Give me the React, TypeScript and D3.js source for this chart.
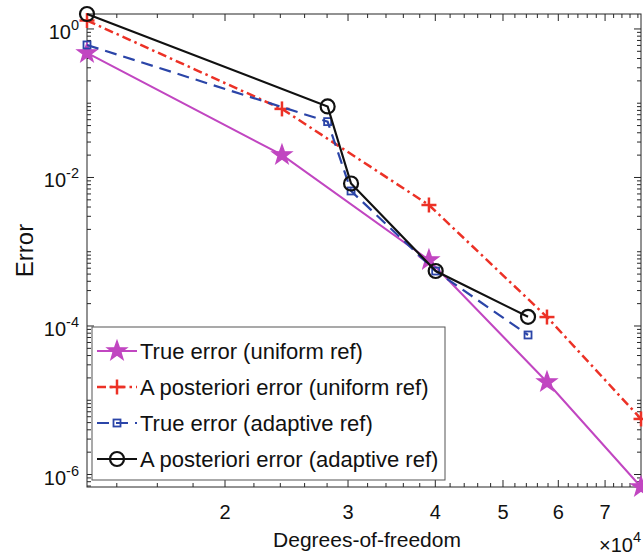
import React from "react";
import * as d3 from "d3";

const dofUniform = [12690, 24130, 39170, 57800, 78800];
const dofAdaptive = [12690, 28050, 30300, 40050, 54300];
const trueUniform = [0.475, 0.0201, 7.74e-4, 1.76e-5, 6.79e-7];
const aposUniform = [1.3, 0.0838, 4.26e-3, 1.32e-4, 5.6e-6];
const trueAdaptive = [0.609, 0.0565, 6.58e-3, 5.5e-4, 7.57e-5];
const aposAdaptive = [1.59, 0.0904, 8.3e-3, 5.5e-4, 1.33e-4];

const legendLabels = [
  "True error (uniform ref)",
  "A posteriori error (uniform ref)",
  "True error (adaptive ref)",
  "A posteriori error (adaptive ref)",
];
const xTickLabels = [2, 3, 4, 5, 6, 7];
const yTickExps = [0, -2, -4, -6];

const W = 643, H = 558;
const L = 87, R = 641, T = 14, B = 487;
const FONT = "'Liberation Sans', Arial, Helvetica, sans-serif";

type Marker = "star" | "plus" | "square" | "circle";
const seriesDefs: { x: number[]; y: number[]; color: string; dash: string; marker: Marker; w: number }[] = [
  { x: dofUniform, y: trueUniform, color: "#c146c1", dash: "", marker: "star", w: 2 },
  { x: dofUniform, y: aposUniform, color: "#ec3126", dash: "9,4,2.5,4", marker: "plus", w: 2.5 },
  { x: dofAdaptive, y: trueAdaptive, color: "#2b45a8", dash: "12,7", marker: "square", w: 2.2 },
  { x: dofAdaptive, y: aposAdaptive, color: "#111111", dash: "", marker: "circle", w: 2.2 },
];

function starPath(cx: number, cy: number, ro: number, ri: number) {
  const pts: string[] = [];
  for (let i = 0; i < 10; i++) {
    const r = i % 2 === 0 ? ro : ri;
    const a = -Math.PI / 2 + (i * Math.PI) / 5;
    pts.push(`${cx + r * Math.cos(a)},${cy + r * Math.sin(a)}`);
  }
  return "M" + pts.join("L") + "Z";
}

function MarkerG({ m, cx, cy, color }: { m: Marker; cx: number; cy: number; color: string }) {
  if (m === "star") return <path d={starPath(cx, cy, 10, 4)} fill={color} stroke={color} strokeWidth={1.5} strokeLinejoin="miter" />;
  if (m === "plus")
    return (
      <g stroke={color} strokeWidth={2.5}>
        <line x1={cx - 7.5} x2={cx + 7.5} y1={cy} y2={cy} />
        <line x1={cx} x2={cx} y1={cy - 7.5} y2={cy + 7.5} />
      </g>
    );
  if (m === "square") return <rect x={cx - 3.5} y={cy - 3.5} width={7} height={7} fill="none" stroke={color} strokeWidth={1.8} />;
  return <circle cx={cx} cy={cy} r={7} fill="none" stroke={color} strokeWidth={2.2} />;
}

export default function App() {
  const allX = [...dofUniform, ...dofAdaptive];
  const allY = [...trueUniform, ...aposUniform, ...trueAdaptive, ...aposAdaptive];
  const x = d3.scaleLog().domain(d3.extent(allX) as [number, number]).range([L, R]);
  const y = d3.scaleLog().domain([d3.max(allY)!, d3.min(allY)!]).range([T, B]);
  const line = d3.line<[number, number]>().x((d) => x(d[0])).y((d) => y(d[1]));

  const [x0, x1] = x.domain();
  const xMinor: number[] = [];
  for (let v = 10000; v <= x1 + 1; v += 2000) if (v >= x0 && !xTickLabels.includes(v / 10000)) xMinor.push(v);
  const xMajor = xTickLabels.map((v) => v * 10000);

  const [yTop, yBot] = y.domain();
  const yMinor: number[] = [];
  for (let e = -7; e <= 1; e++) {
    for (let k = 1; k <= 9; k++) {
      const v = k * Math.pow(10, e);
      if (v >= yBot && v <= yTop && !(k === 1 && yTickExps.includes(e))) yMinor.push(v);
    }
  }
  const yMajor = yTickExps.map((e) => Math.pow(10, e));

  const axisColor = "#262626";
  const majLen = 7, minLen = 4;

  return (
    <svg width={W} height={H} style={{ position: "absolute", left: 0, top: 0, background: "#fff" }} fontFamily={FONT}>
      <rect x={0} y={0} width={W} height={H} fill="#fff" />
      <g stroke={axisColor} strokeWidth={1} fill="none">
        <rect x={L} y={T} width={R - L} height={B - T} />
        {xMajor.map((v) => (
          <g key={"xm" + v}>
            <line x1={x(v)} x2={x(v)} y1={B} y2={B - majLen} />
            <line x1={x(v)} x2={x(v)} y1={T} y2={T + majLen} />
          </g>
        ))}
        {xMinor.map((v) => (
          <g key={"xn" + v}>
            <line x1={x(v)} x2={x(v)} y1={B} y2={B - minLen} />
            <line x1={x(v)} x2={x(v)} y1={T} y2={T + minLen} />
          </g>
        ))}
        {yMajor.map((v) => (
          <g key={"ym" + v}>
            <line x1={L} x2={L + majLen} y1={y(v)} y2={y(v)} />
            <line x1={R} x2={R - majLen} y1={y(v)} y2={y(v)} />
          </g>
        ))}
        {yMinor.map((v) => (
          <g key={"yn" + v}>
            <line x1={L} x2={L + minLen} y1={y(v)} y2={y(v)} />
            <line x1={R} x2={R - minLen} y1={y(v)} y2={y(v)} />
          </g>
        ))}
      </g>

      <g fill="#111" fontSize={20}>
        {xMajor.map((v, i) => (
          <text key={"xl" + v} x={x(v)} y={519} textAnchor="middle">
            {xTickLabels[i]}
          </text>
        ))}
        {yTickExps.map((e) => (
          <text key={"yl" + e} x={79} y={y(Math.pow(10, e)) + 10} textAnchor="end">
            10
            <tspan fontSize={14.5} dy={-9}>
              {e}
            </tspan>
          </text>
        ))}
        <text x={599} y={552}>
          ×10
          <tspan fontSize={14.5} dy={-10}>4</tspan>
        </text>
      </g>

      <text x={(L + R) / 2 + 3} y={547} textAnchor="middle" fontSize={21} fill="#111">
        Degrees-of-freedom
      </text>
      <text transform={`translate(33,${(T + B) / 2}) rotate(-90)`} textAnchor="middle" fontSize={24} fill="#111">
        Error
      </text>

      {seriesDefs.map((s, i) => {
        const pts = s.x.map((xv, j) => [xv, s.y[j]] as [number, number]);
        return (
          <g key={"s" + i}>
            <path d={line(pts)!} fill="none" stroke={s.color} strokeWidth={s.w} strokeDasharray={s.dash || undefined} />
            {pts.map((p, j) => (
              <MarkerG key={j} m={s.marker} cx={x(p[0])} cy={y(p[1])} color={s.color} />
            ))}
          </g>
        );
      })}

      <rect x={92} y={327} width={353} height={153} fill="#fff" stroke="#555" strokeWidth={1} />
      {seriesDefs.map((s, i) => {
        const cy = 351 + i * 36;
        return (
          <g key={"lg" + i}>
            <line x1={97} x2={137} y1={cy} y2={cy} stroke={s.color} strokeWidth={s.w} strokeDasharray={s.dash || undefined} />
            <MarkerG m={s.marker} cx={117} cy={cy} color={s.color} />
            <text x={140} y={cy + 8} fontSize={22} fill="#111">
              {legendLabels[i]}
            </text>
          </g>
        );
      })}
    </svg>
  );
}
